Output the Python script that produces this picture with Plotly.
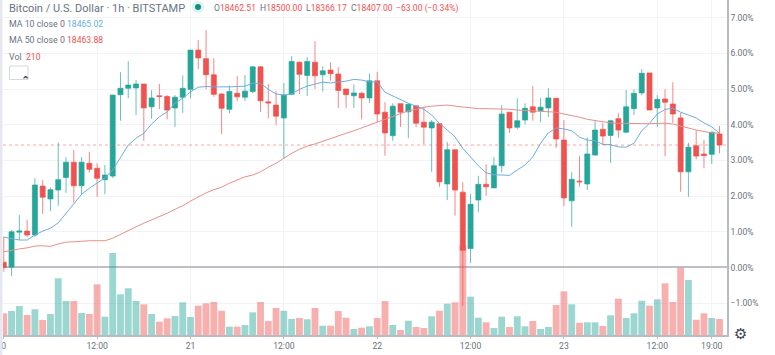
import plotly.graph_objects as go

hours = list(range(93))
opens = [0.15,0.01,0.99,1.02,0.91,2.28,1.92,2.17,2.52,2.95,2.29,2.92,2.78,2.46,2.56,4.84,5.02,5.03,5.14,4.50,4.81,4.79,4.47,4.77,4.99,6.09,5.85,5.40,4.86,4.43,4.88,4.77,4.93,5.62,4.64,4.55,4.19,4.85,5.75,5.38,5.75,5.40,5.53,5.42,5.00,4.81,4.88,4.75,5.23,4.35,3.69,4.59,4.36,4.53,4.07,3.91,4.03,2.34,3.30,2.11,0.53,1.89,2.33,2.23,2.85,4.35,3.93,4.13,4.50,4.39,4.47,4.74,3.57,1.87,2.42,2.34,3.15,3.87,3.70,4.17,3.79,4.45,4.89,5.45,4.47,4.72,4.58,4.19,2.68,3.41,3.18,3.17,3.74]
highs = [0.86,1.05,1.47,1.33,2.50,2.45,2.24,3.50,3.09,3.29,3.10,3.24,2.92,2.87,4.83,5.47,5.78,5.25,5.14,4.97,5.14,4.83,4.83,5.38,6.09,6.37,6.65,5.86,4.88,5.09,5.36,5.39,5.64,5.64,5.14,4.94,5.17,5.92,5.77,5.89,6.34,5.64,5.75,5.61,5.00,5.13,4.92,5.44,5.48,4.63,4.60,4.59,4.60,4.53,4.50,4.13,4.03,3.52,3.30,2.39,2.06,2.57,2.89,3.09,4.55,4.35,4.74,4.60,5.08,4.75,5.02,4.75,4.13,2.67,3.13,3.65,4.11,4.05,4.13,4.32,4.97,4.99,5.56,5.45,4.83,4.99,5.19,4.33,3.49,3.85,3.57,3.79,3.96]
lows = [-0.12,-0.24,0.77,0.85,0.85,1.50,1.58,1.73,2.09,1.81,2.03,2.66,1.98,2.05,2.51,4.11,4.74,4.27,3.55,4.16,4.44,4.15,3.94,4.33,4.74,5.56,4.99,4.78,3.74,4.32,4.66,4.66,4.88,4.36,4.18,4.00,3.06,4.83,4.86,4.81,5.00,4.93,5.23,4.47,4.46,4.47,4.15,4.61,4.08,3.13,3.55,3.94,3.62,3.93,3.45,2.68,2.26,1.89,1.45,-1.08,0.13,1.55,2.01,2.23,2.66,3.77,3.87,4.01,4.11,4.07,4.21,3.35,1.72,1.14,2.26,2.17,3.13,3.43,2.93,3.63,3.77,4.27,4.83,4.41,3.94,3.12,4.05,2.12,1.98,3.03,2.78,2.90,3.20]
closes = [0.00,1.00,1.02,0.91,2.31,1.97,2.18,2.46,2.95,2.29,2.95,2.75,2.50,2.59,4.83,5.02,5.11,5.14,4.47,4.75,4.79,4.41,4.77,5.02,6.09,5.87,5.40,4.85,4.46,4.93,4.78,4.94,5.62,4.67,4.61,4.24,4.83,5.77,5.41,5.77,5.37,5.51,5.43,4.96,4.84,4.89,4.75,5.23,4.30,3.77,4.52,4.35,4.57,4.04,3.93,4.07,2.40,3.30,2.17,0.48,1.77,2.33,2.26,2.85,4.30,3.91,4.11,4.46,4.35,4.49,4.75,3.60,1.95,2.47,2.40,3.18,3.85,3.68,4.11,3.85,4.50,4.88,5.44,4.41,4.71,4.63,4.30,2.68,3.37,3.12,3.14,3.79,3.43]
volumes = [284,314,380,262,337,197,275,743,445,445,288,275,664,240,1074,533,612,445,402,275,174,219,249,428,236,384,415,432,318,109,109,131,297,432,183,354,318,210,223,206,354,122,122,314,227,79,96,114,223,445,131,66,187,105,92,245,318,410,428,1179,502,227,166,92,240,105,245,114,183,79,105,393,572,402,161,166,166,118,258,476,223,284,449,384,468,677,432,882,720,200,284,223,210]
ma10 = [0.85,0.82,0.77,0.77,0.91,1.02,1.10,1.25,1.52,1.80,2.05,2.22,2.36,2.51,2.73,3.10,3.43,3.62,3.76,4.02,4.22,4.36,4.60,4.74,4.92,5.05,5.07,5.06,5.05,5.06,5.07,5.08,5.16,5.16,4.99,4.86,4.83,4.86,4.99,5.08,5.14,5.19,5.17,5.19,5.22,5.27,5.25,5.20,5.20,4.91,4.80,4.69,4.60,4.52,4.43,4.27,4.04,3.85,3.66,3.34,3.09,2.85,2.65,2.60,2.59,2.58,2.73,2.87,3.10,3.48,3.77,3.91,3.88,3.83,3.65,3.57,3.55,3.45,3.44,3.38,3.37,3.48,3.83,4.04,4.30,4.43,4.46,4.35,4.27,4.19,4.05,3.94,3.76]
ma50 = [0.44,0.49,0.52,0.55,0.60,0.61,0.59,0.66,0.71,0.72,0.74,0.75,0.75,0.75,0.82,0.93,1.05,1.14,1.24,1.33,1.42,1.52,1.63,1.73,1.86,1.98,2.09,2.18,2.25,2.36,2.45,2.54,2.59,2.68,2.81,2.92,3.06,3.20,3.31,3.40,3.46,3.54,3.62,3.69,3.76,3.83,3.91,3.99,4.07,4.15,4.24,4.33,4.39,4.43,4.49,4.52,4.54,4.55,4.52,4.49,4.46,4.45,4.45,4.45,4.45,4.43,4.41,4.40,4.39,4.38,4.37,4.35,4.30,4.26,4.21,4.15,4.11,4.07,4.05,4.04,4.03,4.03,4.03,4.03,4.04,4.04,4.02,3.96,3.90,3.85,3.81,3.77,3.76]

x_tick_positions = [0,12,24,36,48,60,72,84,91]
x_tick_labels = ["0","12:00","21","12:00","22","12:00","23","12:00","19:00"]
y_tick_values = [-1,0,1,2,3,4,5,6,7]
y_tick_labels = ["−1.00%","0.00%","1.00%","2.00%","3.00%","4.00%","5.00%","6.00%","7.00%"]

TEAL="#26a69a"; RED="#ef5350"; GRAY="#6b7280"; BLUE="#6aaedd"
FONT="Roboto"
W=775; H=355; L=3; R=48; B=20
pw=W-L-R; ph=H-B
def px(x): return (x-L)/pw
def py(y): return 1-y/ph

vol_colors=["rgba(38,166,154,0.46)" if c>=o else "rgba(239,83,80,0.46)" for o,c in zip(opens,closes)]

fig=go.Figure()
fig.add_trace(go.Candlestick(x=hours,open=opens,high=highs,low=lows,close=closes,
    increasing=dict(line=dict(color="rgba(38,166,154,0.7)",width=1),fillcolor=TEAL),
    decreasing=dict(line=dict(color="rgba(239,83,80,0.7)",width=1),fillcolor=RED),
    whiskerwidth=0,showlegend=False,hoverinfo="skip"))
fig.add_trace(go.Scatter(x=hours,y=ma10,mode="lines",line=dict(color=BLUE,width=1),showlegend=False,hoverinfo="skip"))
fig.add_trace(go.Scatter(x=hours,y=ma50,mode="lines",line=dict(color="#e8908a",width=1),showlegend=False,hoverinfo="skip"))
fig.add_trace(go.Bar(x=hours,y=volumes,yaxis="y2",marker=dict(color=vol_colors,line=dict(width=0)),width=0.88,showlegend=False,hoverinfo="skip"))

ann=[]
def text(x,y,t,size=9,color=GRAY,**kw):
    ann.append(dict(xref="paper",yref="paper",x=px(x),y=py(y),text=t,showarrow=False,xanchor="left",yanchor="middle",xshift=-1,
        font=dict(family=FONT,size=size,color=color),**kw))
text(8,8,"Bitcoin / U.S. Dollar · 1h · BITSTAMP",11)
v=lambda s:f'<span style="color:{RED}">{s}</span>'
text(213,8,f"O{v('18462.51')}",8.6)
text(259,8,f"H{v('18500.00')}",8.6)
text(305,8,f"L{v('18366.17')}",8.6)
text(350,8,f"C{v('18407.00')}",8.6)
text(395,8,v('−63.00 (−0.34%)'),8.6)
text(8,24,"MA 10 close 0",8.8)
text(66,24,"18465.02",8.6,BLUE)
text(8,40,"MA 50 close 0",8.8)
text(66,40,"18463.88",8.6,RED)
text(8,56.5,"Vol",8.8)
text(25,56.5,"210",8.6,RED)
ann.append(dict(xref="paper",yref="paper",x=px(749),y=py(345),text="⚙",showarrow=False,font=dict(family="DejaVu Sans",size=15,color="#3f4450")))
ann.append(dict(xref="paper",yref="paper",x=px(19),y=py(72),text="<b>⌃</b>",showarrow=False,font=dict(family="DejaVu Sans",size=11,color="#333")))

shapes=[
 dict(type="line",xref="paper",yref="y",x0=0,x1=1,y0=closes[-1],y1=closes[-1],line=dict(color="rgba(239,83,80,0.5)",width=1,dash="dot"),layer="above"),
 dict(type="rect",xref="paper",yref="paper",x0=px(0),x1=px(2.5),y0=py(355),y1=1,fillcolor="#e6e8f0",line=dict(width=0),layer="above"),
 dict(type="rect",xref="paper",yref="paper",x0=px(9.5),x1=px(28),y0=py(79.5),y1=py(66),fillcolor="white",line=dict(color="#d5d8de",width=1),layer="above"),
 dict(type="circle",xref="paper",yref="paper",x0=px(192),x1=px(204),y0=py(13),y1=py(1),fillcolor="#dff2f0",line=dict(width=0),layer="above"),
 dict(type="circle",xref="paper",yref="paper",x0=px(195),x1=px(201),y0=py(10),y1=py(4),fillcolor="#0f8f82",line=dict(width=0),layer="above"),
]

fig.update_layout(width=W,height=H,margin=dict(l=L,r=R,t=0,b=B,autoexpand=False),
    paper_bgcolor="white",plot_bgcolor="white",barmode="overlay",boxgap=0.08,
    xaxis=dict(range=[-0.1,92.96],tickmode="array",tickvals=x_tick_positions,ticktext=x_tick_labels,
        showgrid=True,gridcolor="#f1f3f9",gridwidth=1,showline=True,linecolor="#b8bac4",linewidth=1.5,ticks="outside",ticklen=2,tickcolor="#b8bac4",
        rangeslider=dict(visible=False),tickfont=dict(family=FONT,size=8.6,color=GRAY),zeroline=False),
    yaxis=dict(range=[-1.891,7.493],side="right",tickmode="array",tickvals=y_tick_values,ticktext=y_tick_labels,
        showgrid=True,gridcolor="#f1f3f9",gridwidth=1,showline=True,linecolor="#b8bac4",linewidth=1.5,
        zeroline=True,zerolinecolor="#bdbfc9",zerolinewidth=1.5,ticks="",
        tickfont=dict(family=FONT,size=8.6,color=GRAY)),
    yaxis2=dict(overlaying="y",range=[0,4388],visible=False),
    annotations=ann,shapes=shapes,hovermode=False)
fig.write_html("out.html",config=dict(displayModeBar=False),post_script="document.body.style.margin='0';document.body.style.overflow='hidden';")
